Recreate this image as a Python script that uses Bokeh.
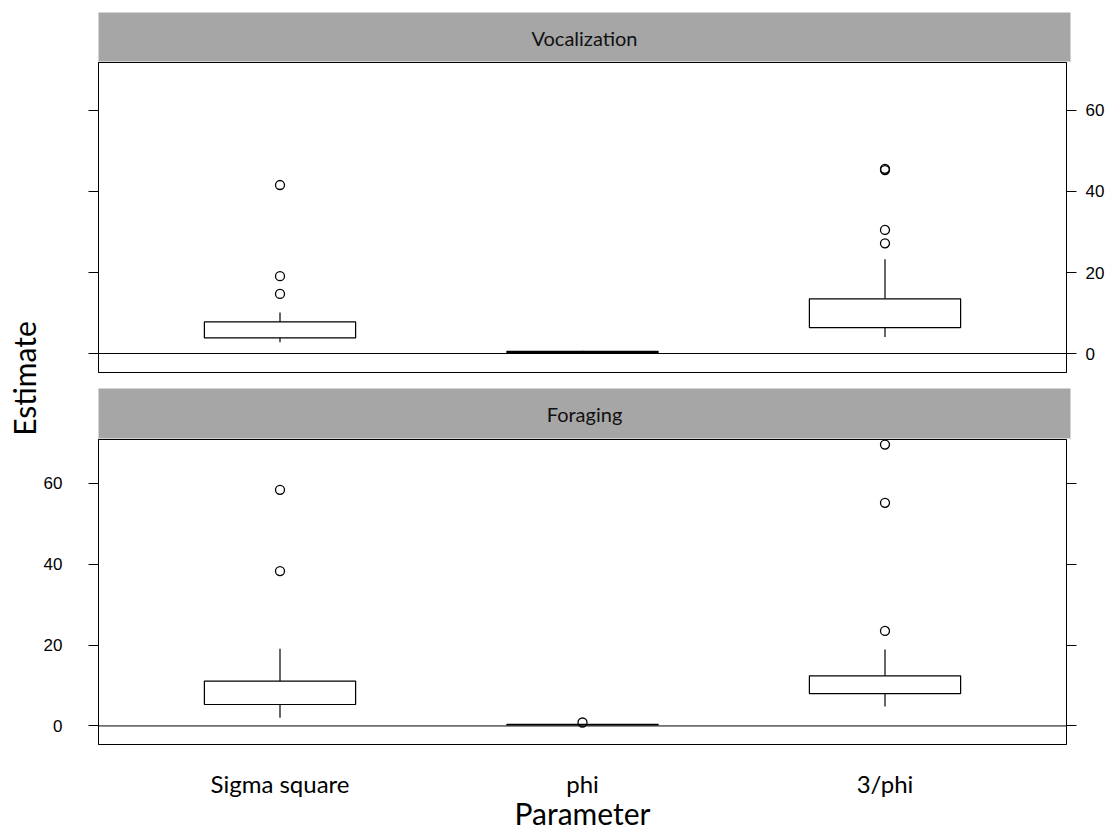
import math
from bokeh.plotting import figure
from bokeh.models import FactorRange, Range1d, LinearAxis, FixedTicker, Span, Label
from bokeh.layouts import row, column
from bokeh.embed import file_html
from bokeh.resources import INLINE

categories = ["Sigma square", "phi", "3/phi"]
panel_names = ["Vocalization", "Foraging"]
y_ticks = [0, 20, 40, 60]
x_title = "Parameter"
y_title = "Estimate"

# Vocalization box statistics
voc_lower = [2.8, 0.10, 4.1]
voc_q1 = [3.85, 0.20, 6.4]
voc_median = [4.5, 0.35, 8.0]
voc_q3 = [7.8, 0.55, 13.5]
voc_upper = [10.1, 0.70, 23.3]
voc_out_cat = ["Sigma square", "Sigma square", "Sigma square", "3/phi", "3/phi", "3/phi", "3/phi"]
voc_out_val = [41.6, 19.1, 14.7, 45.3, 45.6, 30.5, 27.2]

# Foraging box statistics
for_lower = [2.0, 0.15, 4.8]
for_q1 = [5.3, 0.25, 8.0]
for_median = [8.4, 0.30, 10.1]
for_q3 = [11.1, 0.40, 12.4]
for_upper = [19.1, 0.50, 18.9]
for_out_cat = ["Sigma square", "Sigma square", "phi", "3/phi", "3/phi", "3/phi"]
for_out_val = [58.4, 38.3, 0.85, 69.6, 55.2, 23.5]

CAT_FONT = "Lato"
NUM_FONT = "Liberation Sans"
EST_W = 40
FRAME_W = 968
LEFT_B = 58
RIGHT_B = 40
TOTAL_H = 829


def make_strip(text, frame_h, border_top):
    s = figure(x_range=Range1d(0, 1), y_range=Range1d(0, 1),
               frame_width=972, frame_height=frame_h,
               min_border_left=LEFT_B, min_border_right=RIGHT_B,
               min_border_top=border_top, min_border_bottom=0,
               x_axis_location=None, y_axis_location=None,
               toolbar_location=None, output_backend="svg")
    s.grid.visible = False
    s.background_fill_color = "#A6A6A6"
    s.border_fill_color = "white"
    s.outline_line_color = "#D4D4D4"
    s.add_layout(Label(x=0.5, y=0.5, text=text, text_align="center",
                       text_baseline="middle", text_font=CAT_FONT,
                       text_font_size="20px", text_color="#111111"))
    return s


def make_axis(labels):
    ax = LinearAxis(ticker=FixedTicker(ticks=y_ticks, minor_ticks=[]),
                    major_tick_out=10, major_tick_in=0,
                    minor_tick_line_color=None,
                    axis_line_color="black",
                    major_tick_line_color="black",
                    major_label_text_font=NUM_FONT,
                    major_label_text_font_size="17px",
                    major_label_text_color="black")
    if labels:
        ax.major_label_standoff = 9
    else:
        ax.major_label_overrides = {t: "" for t in y_ticks}
        ax.major_label_standoff = 0
    return ax


def make_panel(lower, q1, med, q3, upper, oc, ov, y0, y1, frame_h, border_bottom,
               left_labels, right_labels, show_x):
    p = figure(x_range=FactorRange(factors=categories, range_padding=0.1,
                                   range_padding_units="absolute"),
               y_range=Range1d(y0, y1),
               frame_width=FRAME_W, frame_height=frame_h,
               min_border_left=LEFT_B, min_border_right=RIGHT_B,
               min_border_top=0, min_border_bottom=border_bottom,
               x_axis_location="below" if show_x else None,
               y_axis_location=None,
               toolbar_location=None, output_backend="svg")
    p.grid.visible = False
    p.outline_line_color = "black"
    p.outline_line_width = 1
    p.background_fill_color = "white"
    p.border_fill_color = "white"

    la = make_axis(left_labels)
    if left_labels:
        la.major_label_standoff = 26
    ra = make_axis(right_labels)
    p.add_layout(la, "left")
    p.add_layout(ra, "right")

    p.add_layout(Span(location=0, dimension="width", line_color="black", line_width=1))

    # whiskers
    p.segment(x0=categories, y0=q3, x1=categories, y1=upper, line_color="black", line_width=1.2)
    p.segment(x0=categories, y0=lower, x1=categories, y1=q1, line_color="black", line_width=1.2)
    # caps
    p.rect(x=categories, y=upper, width=0.5, height=0, fill_color=None,
           line_color="black", line_width=1.2)
    p.rect(x=categories, y=lower, width=0.5, height=0, fill_color=None,
           line_color="black", line_width=1.2)
    # boxes
    p.vbar(x=categories, width=0.5, bottom=q1, top=q3, fill_color="white",
           line_color="black", line_width=1.2)
    # medians
    p.rect(x=categories, y=med, width=0.5, height=0, fill_color=None,
           line_color="black", line_width=1.2)
    # outliers
    p.scatter(x=oc, y=ov, marker="circle", size=9, fill_color=None,
              line_color="black", line_width=1.3)

    if show_x:
        xa = p.xaxis[0]
        xa.major_tick_line_color = None
        xa.minor_tick_line_color = None
        xa.axis_line_color = None
        xa.major_tick_out = 0
        xa.major_label_text_font = CAT_FONT
        xa.major_label_text_font_size = "24px"
        xa.major_label_text_color = "black"
        xa.major_label_standoff = 24
        xa.axis_label = x_title
        xa.axis_label_text_font = CAT_FONT
        xa.axis_label_text_font_size = "30px"
        xa.axis_label_text_font_style = "normal"
        xa.axis_label_text_color = "black"
        xa.axis_label_standoff = -6
    return p


strip1 = make_strip(panel_names[0], 50, 12)
panel1 = make_panel(voc_lower, voc_q1, voc_median, voc_q3, voc_upper,
                    voc_out_cat, voc_out_val, -4.69, 71.85, 310, 16,
                    False, True, False)
strip2 = make_strip(panel_names[1], 51, 0)
panel2 = make_panel(for_lower, for_q1, for_median, for_q3, for_upper,
                    for_out_cat, for_out_val, -4.59, 70.86, 305, 85,
                    True, False, True)

est = figure(width=EST_W, height=TOTAL_H, x_range=Range1d(0, 1), y_range=Range1d(0, 1),
             min_border_left=0, min_border_right=0, min_border_top=0, min_border_bottom=0,
             x_axis_location=None, y_axis_location=None,
             toolbar_location=None, output_backend="svg")
est.grid.visible = False
est.outline_line_color = None
est.add_layout(Label(x=23, y=TOTAL_H - 378, x_units="screen", y_units="screen", text=y_title,
                     angle=math.pi / 2, text_align="center", text_baseline="middle",
                     text_font=CAT_FONT, text_font_size="30px", text_color="black"))

layout = row(est, column(strip1, panel1, strip2, panel2))

with open("out.html", "w") as f:
    f.write(file_html(layout, INLINE))
